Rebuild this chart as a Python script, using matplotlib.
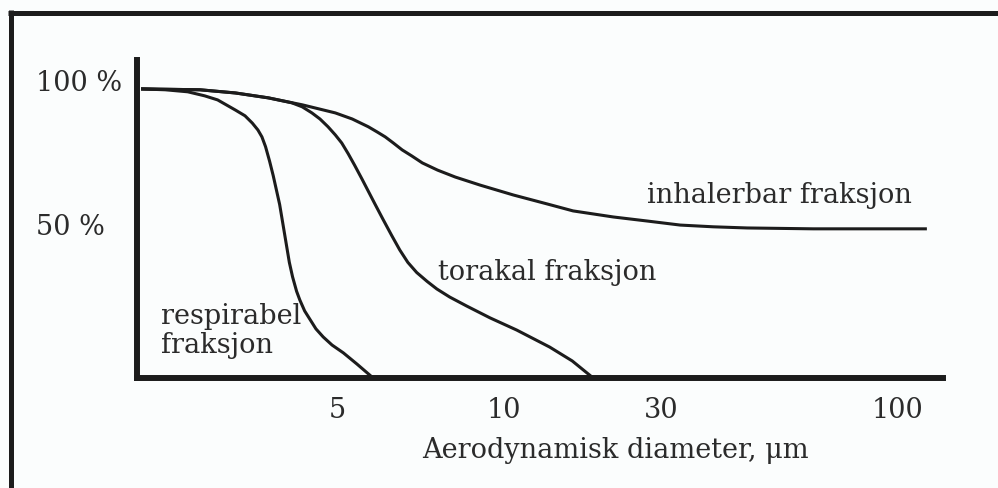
import matplotlib
matplotlib.use("Agg")
import matplotlib.pyplot as plt
from matplotlib.lines import Line2D

# x = relativ posisjon langs aksen (0-100, skjematisk skala), y = andel i %
resp_x = [0.5, 3.5, 6.3, 8.4, 10.0, 12.2, 13.4, 14.3, 15.0, 15.5, 15.95, 16.45, 16.9, 17.3, 17.7,
          18.0, 18.3, 18.6, 18.9, 19.3, 19.8, 20.2, 20.8, 21.5, 22.2, 23.1, 24.2, 25.6,
          27.3, 29.3]
resp_y = [100, 99.7, 99.0, 97.6, 96.2, 92.7, 90.7, 88.2, 85.8, 83.4, 80.0, 75.0, 70.0, 65.0, 60.0,
          55.0, 50.0, 45.0, 40.0, 35.0, 30.0, 27.0, 23.2, 20.1, 17.0, 14.2, 11.4, 8.7,
          4.8, 0]

tor_x = [0.5, 7.8, 12.2, 16.3, 19.2, 20.5, 21.7, 22.7, 23.7, 24.6, 25.4, 26.2, 27.0, 27.9, 28.7,
         29.5, 30.5, 31.6, 32.6, 33.6, 34.7, 36.0, 37.2, 38.8, 40.9, 43.8, 47.1, 51.2, 54.0, 56.6]
tor_y = [100, 99.7, 98.6, 96.9, 95.2, 93.8, 91.7, 89.6, 86.9, 84.1, 81.3, 77.6, 73.6, 68.9, 64.6,
         60.3, 55.0, 49.3, 44.3, 40.0, 36.5, 33.4, 30.8, 28.0, 24.9, 20.8, 16.6, 10.7, 5.9, 0]

inh_x = [0.5, 7.8, 12.2, 16.3, 20.5, 24.6, 26.7, 28.7, 29.8, 30.8, 31.8, 32.9, 34.1, 35.4, 37.3,
         39.5, 42.6, 46.7, 50.9, 54.1, 59.1, 63.3, 67.4, 71.5, 75.7, 83.9, 92.2, 98.0]
inh_y = [100, 99.7, 98.6, 96.9, 94.5, 91.7, 89.6, 86.9, 85.1, 83.4, 81.3, 78.9, 76.8, 74.4, 71.9,
         69.5, 66.7, 63.3, 60.2, 57.8, 55.7, 54.3, 52.9, 52.3, 51.9, 51.6, 51.6, 51.6]

xtick_pos = [24.8, 45.5, 65.0, 94.4]
xtick_labels = ['5', '10', '30', '100']
ytick_vals = [100, 50]
ytick_labels = ['100 %', '50 %']

bg = '#fbfdfd'
ink = '#1c1c1c'
txt = '#2b2b2b'
font = 'DejaVu Serif'
fs = 19.5

fig = plt.figure(figsize=(9.98, 4.88), dpi=100, facecolor=bg)
ax = fig.add_axes([137 / 998, 110 / 488, 806 / 998, 318 / 488], facecolor=bg)

for xs, ys in [(resp_x, resp_y), (tor_x, tor_y), (inh_x, inh_y)]:
    ax.plot(xs, ys, color=ink, linewidth=2.2, solid_capstyle='butt', solid_joinstyle='round')

ax.set_xlim(0, 100)
ax.set_ylim(0, 110)

for side in ['top', 'right']:
    ax.spines[side].set_visible(False)
for side in ['left', 'bottom']:
    ax.spines[side].set_linewidth(4.3)
    ax.spines[side].set_color(ink)
    ax.spines[side].set_capstyle('projecting')

ax.set_xticks(xtick_pos)
ax.set_xticklabels(xtick_labels, fontsize=fs, family=font, color=txt)
ax.tick_params(axis='x', length=0, pad=14)
ax.set_yticks([])

# y-etiketter venstrejustert
for v, lab in zip(ytick_vals, ytick_labels):
    ax.annotate(lab, xy=(0, v), xycoords=('axes fraction', 'data'),
                xytext=(-73, 4), textcoords='offset points',
                ha='left', va='center', fontsize=fs, family=font, color=txt)

ax.set_xlabel('Aerodynamisk diameter, μm', fontsize=fs, family=font, color=txt, va='top')
ax.xaxis.set_label_coords(0.594, -0.185)

# kurvetekster
ax.text(63.3, 60.6, 'inhalerbar fraksjon', fontsize=fs, family=font, color=txt, va='baseline')
ax.text(37.3, 33.9, 'torakal fraksjon', fontsize=fs, family=font, color=txt, va='baseline')
ax.text(3.0, 8.6, 'respirabel\nfraksjon', fontsize=fs, family=font, color=txt,
        va='baseline', linespacing=1.1)

# ytre ramme (kun topp og venstre synlig)
fig.add_artist(Line2D([8 / 998, 1.0], [1 - 12.5 / 488] * 2, transform=fig.transFigure,
                      color=ink, linewidth=3.6, solid_capstyle='butt'))
fig.add_artist(Line2D([10.5 / 998] * 2, [0, 1 - 10 / 488], transform=fig.transFigure,
                      color=ink, linewidth=3.6, solid_capstyle='butt'))

fig.savefig('out.png', dpi=100, facecolor=bg)
